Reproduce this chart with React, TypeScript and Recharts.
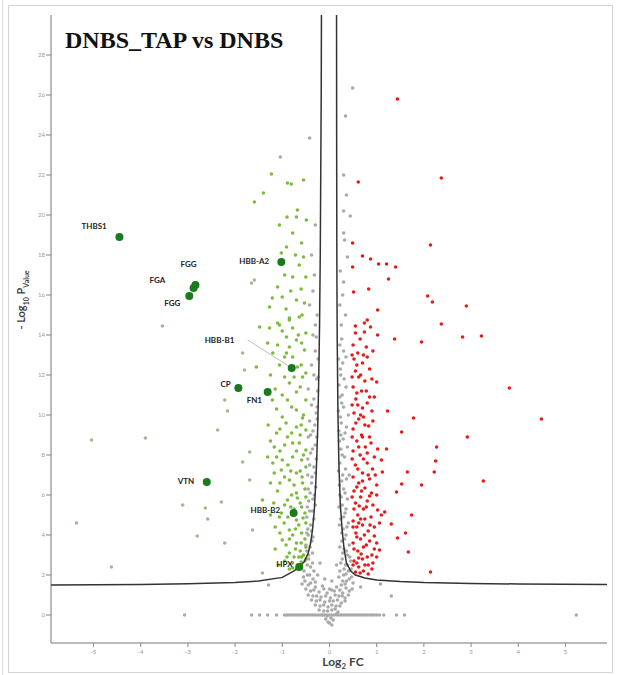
import { ScatterChart, Scatter, XAxis, YAxis } from "recharts"

type Pt = [number, number]

// log2 FC, -log10 p
const greenBand: Pt[] = [
  [-1.23, 22.05], [-1.4, 21.1], [-1.59, 20.65], [-0.89, 21.6], [-0.81, 21.55], [-0.55, 21.75], [-0.68, 20.25], [-0.7, 19.9],
  [-1.06, 19.5], [-0.49, 19.75], [-0.78, 19.1], [-0.91, 18.4], [-0.59, 18.6], [-1.02, 18.1],
  [-0.64, 17.5], [-0.5, 16.9], [-0.78, 16.9], [-1.21, 15.85], [-1.0, 15.9], [-0.7, 15.75], [-0.53, 15.6],
  [-1.27, 15.4], [-0.64, 14.9], [-0.85, 14.85], [-1.1, 14.6], [-0.78, 14.35], [-1.27, 14.35], [-0.5, 14.1], [-0.91, 13.9],
  [-1.48, 14.4], [-1.31, 13.6], [-1.1, 13.5], [-0.7, 13.75], [-0.85, 13.4], [-0.53, 13.25], [-0.78, 12.9], [-0.68, 12.4],
  [-1.06, 12.5], [-0.5, 12.1], [-1.55, 12.4], [-0.59, 13.6], [-0.91, 13.1], [-1.06, 14.5], [-0.85, 14.75],
  [-0.57, 11.9], [-0.85, 11.6], [-0.7, 11.15], [-1.21, 10.75], [-0.89, 10.75], [-0.5, 10.75], [-0.7, 10.25], [-0.57, 9.85],
  [-1.0, 9.9], [-0.7, 9.4], [-0.5, 9.25], [-1.12, 9.1], [-0.89, 8.9], [-0.64, 8.6], [-0.5, 8.25], [-1.17, 8.4],
  [-0.78, 7.9], [-0.59, 7.75], [-1.0, 7.75], [-0.5, 7.4], [-0.7, 7.1], [-1.02, 7.25], [-0.85, 6.75], [-0.57, 6.6],
  [-0.7, 6.1], [-0.5, 5.9], [-0.89, 5.75], [-0.59, 5.4], [-1.02, 5.1], [-0.7, 4.75], [-0.5, 4.6], [-0.85, 4.25],
  [-0.59, 4.1], [-1.0, 3.75], [-0.7, 3.6], [-0.5, 3.4], [-0.85, 3.1], [-0.59, 2.9], [-0.78, 2.6], [-0.5, 2.8], [-0.7, 2.3],
  [-0.95, 11.9], [-0.62, 11.4], [-0.8, 10.4], [-0.55, 10.0], [-0.92, 9.6], [-0.62, 9.0], [-0.78, 8.6], [-1.05, 8.2],
  [-0.55, 8.0], [-0.88, 7.5], [-0.62, 7.2], [-0.95, 6.9], [-0.75, 6.5], [-0.52, 6.3], [-1.1, 6.2], [-0.8, 6.0],
  [-0.62, 5.6], [-0.95, 5.5], [-0.75, 5.3], [-0.52, 5.1], [-0.88, 4.9], [-0.65, 4.5], [-1.15, 4.4], [-0.78, 4.0],
  [-0.52, 3.8], [-0.92, 3.5], [-0.62, 3.2], [-0.75, 2.9], [-0.95, 2.7], [-0.6, 2.65], [-0.85, 2.3], [-0.68, 2.5],
  [-1.12, 7.9], [-1.17, 7.1], [-1.31, 7.9], [-1.06, 4.9], [-1.42, 5.75],
  [-1.25, 12.0], [-1.15, 11.3], [-1.0, 11.0], [-0.75, 11.9], [-0.6, 12.5], [-0.95, 12.9], [-1.2, 13.1], [-0.66, 14.0],
  [-1.0, 14.2], [-0.58, 15.0], [-0.92, 15.3], [-0.82, 16.2], [-1.1, 16.4], [-0.6, 16.3], [-0.95, 17.0], [-0.72, 18.0],
  [-0.55, 17.9], [-0.9, 19.9], [-1.12, 10.3], [-1.3, 9.5], [-1.05, 9.3], [-0.8, 9.1], [-0.6, 9.5], [-1.25, 8.7],
  [-0.95, 8.5], [-0.7, 8.2], [-1.2, 7.6], [-0.82, 7.2], [-0.58, 6.9], [-1.25, 6.6], [-1.05, 6.6], [-0.68, 5.85],
  [-1.18, 5.6], [-0.82, 5.4], [-0.56, 4.85], [-1.25, 5.0], [-0.96, 4.6], [-0.72, 4.3], [-1.05, 4.1], [-0.6, 3.6],
  [-0.85, 3.8], [-1.15, 3.3], [-0.72, 3.3], [-0.55, 3.0], [-0.9, 2.9], [-1.08, 2.5], [-0.65, 2.9], [-0.78, 2.35],
]

const greenFaint: Pt[] = [
  [-1.65, 16.6], [-1.59, 16.75], [-1.84, 13.1], [-1.8, 12.25], [-2.22, 10.75], [-2.16, 10.2], [-2.37, 9.25],
  [-1.69, 8.15], [-1.84, 7.65], [-1.69, 6.75], [-3.11, 5.5], [-2.63, 5.35], [-2.29, 5.65], [-2.58, 4.8],
  [-2.8, 3.95], [-2.22, 3.6], [-1.63, 4.25], [-1.42, 2.1], [-3.54, 14.45], [-3.9, 8.85], [-5.04, 8.75],
  [-5.36, 4.6], [-4.62, 2.4],
]

const redPoints: Pt[] = [
  [1.44, 25.8], [0.61, 21.65], [2.37, 21.85], [0.49, 18.6], [2.14, 18.5], [0.7, 17.95], [0.87, 17.8], [0.49, 17.4],
  [1.04, 17.55], [1.21, 17.55], [1.4, 17.4], [1.25, 16.8], [0.51, 16.15], [0.83, 16.3], [2.08, 15.95], [2.18, 15.65],
  [2.9, 15.45], [1.02, 15.25], [0.8, 14.75], [0.74, 14.6], [0.55, 14.45], [0.87, 14.4], [2.37, 14.55], [0.74, 14.15],
  [1.02, 14.0], [1.38, 13.8], [1.95, 13.65], [2.82, 13.9], [3.22, 13.95], [3.81, 11.35], [4.49, 9.8], [1.23, 10.2],
  [1.78, 9.85], [1.53, 9.15], [2.92, 8.9], [2.27, 8.4], [1.21, 8.3], [2.25, 7.7], [2.22, 7.15], [1.65, 7.15],
  [3.26, 6.7], [1.95, 6.5], [1.53, 6.55], [1.42, 6.15], [1.74, 5.0], [1.31, 4.55], [1.61, 4.1], [1.44, 3.85],
  [1.67, 3.15], [2.14, 2.15],
  [0.55, 14.1], [0.65, 13.8], [0.5, 13.5], [0.78, 13.4], [0.6, 13.1], [0.92, 13.2], [0.52, 12.8], [0.7, 12.6],
  [0.85, 12.3], [0.55, 12.2], [0.62, 11.9], [1.0, 11.65], [0.75, 11.7], [0.5, 11.4], [0.68, 11.2], [0.95, 10.9],
  [0.56, 10.8], [0.8, 10.6], [0.7, 10.35], [0.52, 10.1], [0.62, 9.8], [0.83, 9.45], [0.5, 9.3], [0.68, 9.0],
  [0.58, 8.7], [0.76, 8.4], [0.88, 8.6], [0.5, 8.2], [0.95, 7.9], [0.65, 8.0], [1.1, 7.75], [0.8, 7.6],
  [0.55, 7.5], [0.91, 7.3], [1.12, 7.15], [0.7, 7.1], [0.5, 6.9], [0.85, 6.8], [0.62, 6.6], [1.0, 6.5],
  [0.75, 6.35], [0.52, 6.2], [0.89, 6.1], [0.66, 5.9], [0.8, 5.7], [0.55, 5.6], [1.02, 5.25], [1.17, 5.15],
  [0.72, 5.3], [0.6, 5.0], [0.88, 4.9], [0.5, 4.7], [1.06, 4.6], [0.7, 4.5], [0.82, 4.2], [0.56, 4.1],
  [0.95, 3.95], [0.66, 3.8], [0.5, 3.6], [0.78, 3.5], [1.06, 3.25], [0.6, 3.2], [0.9, 3.0], [1.0, 2.9],
  [0.7, 2.8], [0.52, 2.7], [0.82, 2.5], [0.62, 2.4], [0.72, 2.2], [0.55, 2.15], [0.9, 2.3], [0.67, 3.05],
  [0.58, 4.4], [0.75, 4.8], [0.63, 5.45], [0.85, 5.95], [0.7, 6.7], [0.6, 7.3], [0.8, 8.1], [0.7, 8.9],
  [0.56, 9.6], [0.72, 9.9], [0.6, 10.5], [0.9, 10.2], [0.66, 12.0], [0.8, 12.9], [1.0, 6.0], [0.95, 4.4],
  [0.48, 13.0], [0.72, 13.0], [0.58, 12.5], [0.9, 11.8], [0.48, 11.9], [0.78, 11.2], [0.58, 11.1], [0.85, 10.9],
  [0.48, 10.5], [0.66, 10.0], [0.92, 9.7], [0.75, 9.5], [0.48, 8.9], [0.62, 8.4], [0.85, 8.9], [1.02, 8.3],
  [0.72, 7.8], [0.48, 7.8], [0.82, 7.0], [0.58, 6.4], [0.97, 7.0], [0.68, 6.2], [0.48, 5.9], [0.78, 5.4],
  [0.52, 5.3], [0.92, 5.5], [0.66, 4.8], [1.1, 5.0], [0.5, 4.4], [0.62, 4.6], [0.86, 4.5], [0.74, 4.0],
  [0.58, 3.9], [1.0, 3.6], [0.85, 3.7], [0.52, 3.3], [0.72, 3.4], [0.95, 3.3], [0.62, 2.85], [0.8, 2.9],
  [0.5, 2.5], [0.92, 2.6], [0.75, 2.5], [0.65, 2.1], [0.82, 2.05], [0.58, 2.6],
]

const greyPoints: Pt[] = [
  [0.49, 26.35], [0.34, 24.95], [-0.42, 23.85], [-1.04, 22.9], [0.3, 20.2], [0.44, 19.95], [0.3, 19.1], [0.32, 18.75],
  [0.38, 17.9], [0.3, 16.65], [0.34, 15.0], [-0.35, 16.2], [-0.42, 15.5], [-0.3, 14.5], [0.26, 13.8], [0.3, 13.2],
  [0.22, 13.5], [0.28, 12.6], [0.24, 12.0], [0.35, 11.4], [0.22, 10.9], [0.3, 10.4], [0.4, 10.0], [0.25, 9.6],
  [0.33, 9.1], [0.21, 8.7], [0.38, 8.4], [0.27, 8.0], [0.22, 7.6], [0.34, 7.3], [0.42, 7.0], [0.26, 6.7],
  [0.3, 6.3], [0.22, 6.0], [0.38, 5.8], [0.27, 5.5], [0.33, 5.1], [0.24, 4.8], [0.4, 4.6], [0.29, 4.3],
  [0.35, 4.0], [0.26, 3.7], [0.42, 3.5], [0.31, 3.3], [0.38, 3.0], [0.27, 2.8], [0.45, 2.7], [0.34, 2.5],
  [0.4, 2.2], [0.3, 2.0], [0.47, 1.9], [0.36, 1.7], [0.25, 1.5],
  [-0.3, 13.2], [-0.38, 12.5], [-0.27, 11.8], [-0.45, 11.3], [-0.33, 10.8], [-0.28, 10.1], [-0.42, 9.7], [-0.35, 9.2],
  [-0.45, 8.9], [-0.3, 8.5], [-0.4, 8.1], [-0.46, 7.8], [-0.33, 7.4], [-0.46, 7.0], [-0.38, 6.6], [-0.45, 6.3],
  [-0.32, 6.0], [-0.44, 5.7], [-0.47, 5.4], [-0.36, 5.2], [-0.48, 4.9], [-0.4, 4.5], [-0.46, 4.3], [-0.45, 4.0],
  [-0.37, 3.7], [-0.5, 3.5], [-0.44, 3.0], [-0.52, 2.7], [-0.4, 2.4], [-0.54, 2.2], [-0.47, 2.0], [-0.35, 1.8],
  [-0.52, 1.7], [-0.45, 1.5], [-0.3, 1.4], [-0.15, 1.45], [0.0, 1.3], [0.15, 1.4], [0.35, 1.35], [-0.4, 1.2],
  [-0.22, 1.15], [-0.05, 1.1], [0.1, 1.2], [0.28, 1.1], [0.42, 1.2], [-0.35, 0.95], [-0.18, 0.9], [0.02, 0.85],
  [0.2, 0.95], [0.33, 0.85], [-0.28, 0.7], [-0.1, 0.65], [0.08, 0.7], [0.25, 0.6], [-0.2, 0.45], [-0.03, 0.4],
  [0.14, 0.45], [-0.12, 0.2], [0.05, 0.25], [0.18, 0.15], [-0.08, -0.2], [0.08, -0.25], [0.0, -0.4],
  [-0.2, 2.6], [0.15, 2.5], [-0.25, 2.0], [0.2, 1.9], [-0.1, 1.8], [0.05, 1.7],
  [1.31, 0.95], [-1.29, 1.5], [0.66, 1.4], [1.08, 1.55],
  [0.19, 12.8], [0.2, 11.5], [0.27, 11.0], [0.19, 10.2], [0.23, 9.9], [0.36, 9.4], [0.2, 9.2], [0.29, 8.8],
  [0.24, 8.3], [0.32, 7.9], [0.19, 7.2], [0.28, 7.0], [0.36, 6.8], [0.21, 6.5], [0.33, 6.1], [0.25, 5.9],
  [0.2, 5.4], [0.35, 5.3], [0.3, 4.9], [0.21, 4.5], [0.37, 4.4], [0.26, 4.1], [0.32, 3.8], [0.22, 3.4],
  [0.36, 3.2], [0.28, 3.1], [0.43, 2.9], [0.24, 2.6], [0.38, 2.5], [0.31, 2.3], [0.46, 2.3], [0.22, 2.2],
  [0.35, 2.05], [0.42, 1.8], [0.28, 1.7], [0.5, 1.6], [0.33, 1.55], [0.24, 9.0], [0.26, 10.6], [0.31, 11.8],
  [0.23, 12.3], [0.35, 12.9], [0.25, 14.5], [0.22, 15.5], [0.28, 16.0], [0.36, 21.0], [0.3, 22.0], [0.23, 17.2],
  [-0.24, 12.8], [-0.33, 12.0], [-0.25, 11.2], [-0.38, 10.5], [-0.26, 10.4], [-0.31, 9.5], [-0.4, 9.0], [-0.27, 8.9],
  [-0.36, 8.3], [-0.28, 7.8], [-0.42, 7.5], [-0.3, 7.1], [-0.37, 6.9], [-0.29, 6.4], [-0.41, 6.1], [-0.35, 5.8],
  [-0.3, 5.5], [-0.42, 5.2], [-0.33, 4.8], [-0.38, 4.2], [-0.48, 4.1], [-0.35, 3.9], [-0.41, 3.4], [-0.48, 3.2],
  [-0.36, 3.1], [-0.44, 2.8], [-0.36, 2.6], [-0.47, 2.5], [-0.33, 2.2], [-0.42, 2.0], [-0.55, 1.9], [-0.3, 1.65],
  [-0.4, 1.6], [-0.58, 1.55], [-0.26, 9.8], [-0.24, 11.9], [-0.28, 13.9], [-0.35, 14.0], [-0.26, 15.0], [-0.32, 17.0],
  [-0.38, 18.0], [-0.3, 19.5],
  [-0.5, 1.3], [-0.33, 1.25], [-0.12, 1.3], [0.05, 1.25], [0.22, 1.25], [0.48, 1.3], [-0.45, 1.0], [-0.27, 0.95],
  [-0.08, 0.95], [0.12, 1.0], [0.27, 0.95], [0.4, 1.0], [-0.38, 0.75], [-0.2, 0.75], [0.0, 0.7], [0.17, 0.75],
  [0.33, 0.7], [-0.3, 0.5], [-0.12, 0.5], [0.05, 0.5], [0.22, 0.45], [-0.22, 0.25], [-0.04, 0.2], [0.12, 0.3],
  [-0.15, 0.0], [0.15, 0.05], [-0.05, -0.05], [0.03, -0.15], [-0.03, -0.35], [0.05, -0.5],
]

// p = 1 row
const zeroRowX = [
  -3.07, -1.65, -1.48, -1.31, -1.12, -0.95, -0.9, -0.85, -0.8, -0.75, -0.7, -0.65, -0.6, -0.55, -0.5, -0.45,
  -0.4, -0.35, -0.3, -0.25, -0.2, -0.15, -0.1, -0.05, 0, 0.05, 0.1, 0.15, 0.2, 0.25, 0.3, 0.35, 0.4, 0.45,
  0.5, 0.55, 0.6, 0.65, 0.7, 0.75, 0.8, 0.85, 0.9, 0.95, 1.0, 1.06, 1.15, 1.42, 1.59, 5.23,
]

// significance threshold curves
const curveLeft: Pt[] = [
  [-5.9, 1.5], [-4, 1.53], [-3, 1.56], [-2, 1.62], [-1.5, 1.7], [-1.0, 1.88], [-0.75, 2.2], [-0.6, 2.5],
  [-0.53, 2.68], [-0.45, 3.1], [-0.4, 3.6], [-0.36, 4.25], [-0.32, 5.3], [-0.29, 6.6], [-0.27, 7.8], [-0.25, 9.3],
  [-0.23, 11.5], [-0.21, 14.5], [-0.195, 18], [-0.185, 22], [-0.175, 26], [-0.17, 30],
]
const curveRight: Pt[] = [
  [0.15, 30], [0.152, 24], [0.156, 18], [0.163, 14], [0.18, 10], [0.2, 7.5], [0.23, 5.5], [0.27, 4.2],
  [0.31, 3.3], [0.36, 2.6], [0.45, 2.2], [0.55, 2.0], [0.75, 1.85], [1.0, 1.75], [1.5, 1.67], [2, 1.62],
  [3, 1.58], [4, 1.55], [5.88, 1.52],
]

const hitNames = ["THBS1", "FGG", "FGA", "FGG", "HBB-A2", "HBB-B1", "CP", "FN1", "VTN", "HBB-B2", "HPX"]
const hitX = [-4.45, -2.84, -2.88, -2.97, -1.02, -0.8, -1.93, -1.31, -2.6, -0.76, -0.64]
const hitY = [18.9, 16.5, 16.35, 15.95, 17.65, 12.35, 11.35, 11.15, 6.65, 5.1, 2.4]

const xTicks = [-5, -4, -3, -2, -1, 0, 1, 2, 3, 4, 5]
const yTicks = [0, 2, 4, 6, 8, 10, 12, 14, 16, 18, 20, 22, 24, 26, 28]

// label placement (px from the marker)
const labelOffset: Pt[] = [
  [-38, -8], [-15, -18], [-44, -5], [-25, 10], [-42, 2], [-87, -25],
  [-18, -1], [-21, 11], [-29, 2], [-43, 0], [-23, 0],
]

const toPts = (a: Pt[]) => a.map(([x, y]) => ({ x, y }))
const zeroRow = zeroRowX.map(x => ({ x, y: 0 }))
const hits = hitNames.map((name, i) => ({ name, i, x: hitX[i], y: hitY[i] }))

const dot = (fill: string, r = 1.8) => (p: any) =>
  <circle cx={p.cx} cy={p.cy} r={r} fill={fill} />

const noDot = () => <g />

function HitDot(p: any) {
  const [dx, dy] = labelOffset[p.payload.i]
  return (
    <g>
      {p.payload.name === "HBB-B1" &&
        <line x1={p.cx - 44} y1={p.cy - 28} x2={p.cx - 3} y2={p.cy - 2} stroke="#b0b0b0" strokeWidth={0.8} />}
      <circle cx={p.cx} cy={p.cy} r={4} fill="#1b7a1b" />
      <text x={p.cx + dx} y={p.cy + dy} fontSize={8} fontWeight="bold" fontFamily="Lato, sans-serif" fill="#222">
        {p.payload.name}
      </text>
    </g>
  )
}

const tickStyle = { fontSize: 6, fill: "#999", fontFamily: "Lato, sans-serif" }

export default function App() {
  return (
    <div style={{ position: "absolute", left: 0, top: 0, width: 618, height: 675, background: "#fff" }}>
      <div style={{ position: "absolute", left: 2, top: 0, width: 0, height: 675, borderLeft: "1px solid #ddd" }} />
      <div style={{ position: "absolute", left: 8, top: 5, width: 603, height: 666, border: "1px solid #d4d4d4" }} />
      <ScatterChart width={618} height={675} margin={{ top: 15, right: 11, bottom: 0, left: 0 }}>
        <XAxis type="number" dataKey="x" domain={[-5.9, 5.88]} ticks={xTicks} allowDataOverflow
          height={32} tickSize={4} tickMargin={3} tick={tickStyle}
          axisLine={{ stroke: "#777" }} tickLine={{ stroke: "#888" }} />
        <YAxis type="number" dataKey="y" domain={[-1.4, 30]} ticks={yTicks} allowDataOverflow
          width={51} tickSize={5} tickMargin={1} tick={tickStyle}
          axisLine={{ stroke: "#777" }} tickLine={{ stroke: "#888" }} />
        <Scatter data={zeroRow} shape={dot("#a9a9a9", 1.7)} isAnimationActive={false} />
        <Scatter data={toPts(greyPoints)} shape={dot("#aaaaaa")} isAnimationActive={false} />
        <Scatter data={toPts(greenFaint)} shape={dot("#a2b98f")} isAnimationActive={false} />
        <Scatter data={toPts(greenBand)} shape={dot("#7cbb3c")} isAnimationActive={false} />
        <Scatter data={toPts(redPoints)} shape={dot("#e41c1c")} isAnimationActive={false} />
        <Scatter data={toPts(curveLeft)} line={{ stroke: "#333", strokeWidth: 1.5 }} shape={noDot} isAnimationActive={false} />
        <Scatter data={toPts(curveRight)} line={{ stroke: "#333", strokeWidth: 1.5 }} shape={noDot} isAnimationActive={false} />
        <Scatter data={hits} shape={HitDot} isAnimationActive={false} />
      </ScatterChart>
      <div style={{ position: "absolute", left: 65, top: 28, fontFamily: "'Liberation Serif', serif", fontWeight: "bold", fontSize: 24, lineHeight: "24px", color: "#111", whiteSpace: "nowrap" }}>
        DNBS_TAP vs DNBS
      </div>
      <div style={{ position: "absolute", left: 293, width: 100, top: 656, lineHeight: "12px", textAlign: "center", fontFamily: "Lato, sans-serif", fontWeight: "bold", fontSize: 12, color: "#444" }}>
        Log<sub style={{ fontSize: 8, lineHeight: 0 }}>2</sub> FC
      </div>
      <div style={{ position: "absolute", left: 22, top: 300, width: 160, transform: "translate(-50%, -50%) rotate(-90deg)", textAlign: "center", fontFamily: "Lato, sans-serif", fontWeight: "bold", fontSize: 11, color: "#444", whiteSpace: "nowrap" }}>
        - Log<sub style={{ fontSize: 7 }}>10</sub> P<sub style={{ fontSize: 7 }}>Value</sub>
      </div>
    </div>
  )
}
